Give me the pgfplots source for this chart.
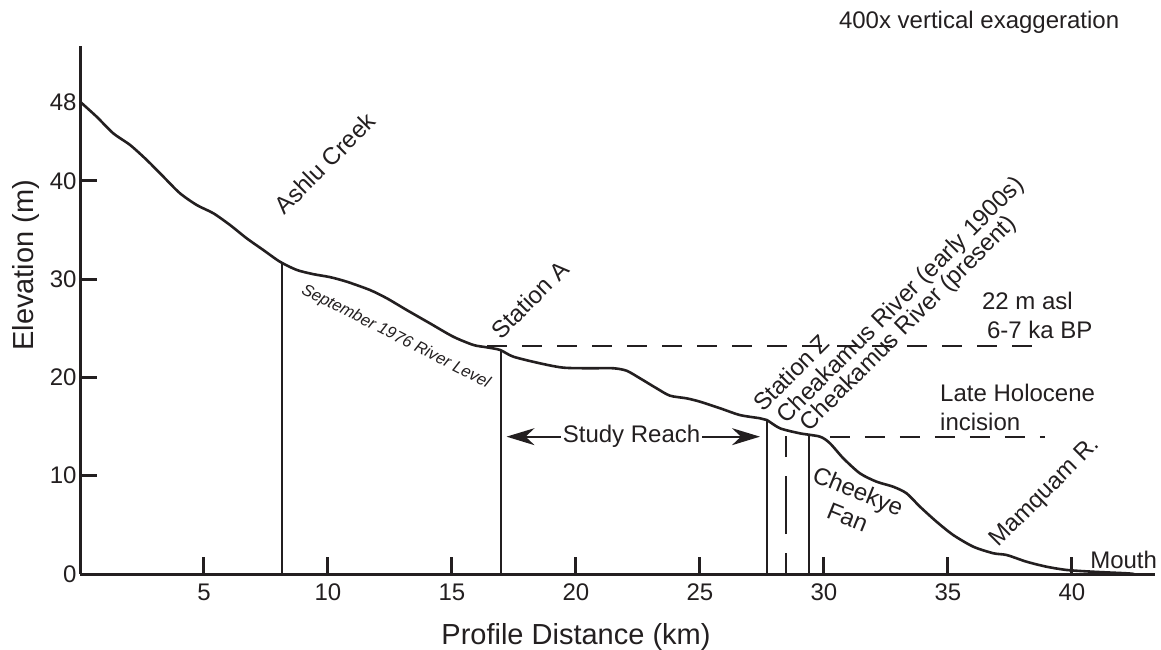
\documentclass[border=0pt]{standalone}
\usepackage{fontspec}
\setmainfont{Liberation Sans}
\usepackage{pgfplots}
\pgfplotsset{compat=1.18}
\usetikzlibrary{arrows.meta}
\definecolor{ink}{RGB}{35,31,32}
\begin{document}
\begin{tikzpicture}[font=\fontsize{24}{29}\selectfont]
\useasboundingbox (0pt,0pt) rectangle (1161pt,649pt);
\begin{axis}[
  at={(80pt,75pt)}, anchor=south west,
  scale only axis, width=1075pt, height=528pt,
  xmin=0, xmax=43.35, ymin=0, ymax=53.71,
  axis lines=left, axis line style={-, line width=3pt, draw=ink},
  clip=false,
  xtick={5,10,...,40}, ytick={0,10,20,30,40},
  extra y ticks={48}, extra y tick style={major tick length=0pt},
  tick align=inside, major tick length=17pt,
  tick style={line width=3pt, draw=ink},
  tick label style={font=\fontsize{24}{29}\selectfont, text=ink},
  /pgf/number format/assume math mode=true,
  xticklabel style={yshift=-6pt},
]
% river profile
\addplot[ink, line width=2.6pt, smooth, tension=0.45, line cap=round] coordinates {
(0,48.05) (0.67,46.52) (1.34,44.83) (2.02,43.64) (2.69,42.12) (3.36,40.42)
(4.03,38.73) (4.71,37.53) (5.38,36.69) (6.05,35.50) (6.72,34.15) (7.39,32.96)
(8.06,31.77) (8.74,30.93) (9.41,30.50) (10.08,30.20) (10.75,29.74) (11.69,28.89)
(12.37,28.05) (13.17,26.86) (14.11,25.50) (15.05,24.14) (15.86,23.30) (16.40,23.06)
(16.94,22.79) (17.47,22.11) (18.55,21.43) (19.49,20.99) (20.56,20.93) (21.50,20.93)
(22.04,20.68) (22.58,19.91) (23.25,18.89) (23.79,18.14) (24.46,17.87) (25.00,17.53)
(25.81,16.86) (26.61,16.17) (27.42,15.84) (27.69,15.67) (28.23,14.82) (29.03,14.31)
(29.84,13.97) (30.24,13.30) (30.78,11.77) (31.45,10.24) (32.12,9.39) (32.79,8.88)
(33.33,8.21) (33.87,6.85) (34.54,5.32) (35.21,3.97) (36.02,2.78) (36.83,2.11)
(37.37,1.93) (38.17,1.25) (38.98,0.74) (39.79,0.41) (40.86,0.23) (42.21,0.07) (42.5,0)
};
% vertical station lines
\addplot[ink, line width=2pt] coordinates {(8.16,0) (8.16,31.65)};
\addplot[ink, line width=2pt] coordinates {(16.98,0) (16.98,22.75)};
\addplot[ink, line width=2pt] coordinates {(27.69,0) (27.69,15.67)};
\addplot[ink, line width=2pt] coordinates {(29.40,0) (29.40,14.15)};
\addplot[ink, line width=2pt, dash pattern={on 21pt off 19pt on 58pt off 19pt}] coordinates {(28.47,0) (28.47,14.14)};
% dashed levels
\addplot[ink, line width=2pt, dash pattern={on 20pt off 15pt}] coordinates {(16.42,23.23) (38.9,23.23)};
\addplot[ink, line width=2pt, dash pattern={on 20pt off 15pt}] coordinates {(30.24,13.97) (38.9,13.97)};
% study reach arrow
\addplot[ink, line width=2pt, {Stealth[length=28pt,width=17pt,inset=9pt]}-{Stealth[length=28pt,width=17pt,inset=9pt]}] coordinates {(17.2,13.97) (27.42,13.97)};
\node[fill=white, inner sep=2pt, text=ink] at (axis cs:22.24,13.97) {Study Reach};
% labels
\node[rotate=45, anchor=base west, inner sep=0pt, text=ink] at (axis cs:8.25,36.46) {Ashlu Creek};
\node[rotate=45, anchor=base west, inner sep=0pt, text=ink] at (axis cs:16.99,23.78) {Station A};
\node[rotate=45, anchor=base west, inner sep=0pt, text=ink] at (axis cs:27.55,16.41) {Station Z};
\node[rotate=45, anchor=base west, inner sep=0pt, text=ink] at (axis cs:28.48,15.19) {Cheakamus River (early 1900s)};
\node[rotate=45, anchor=base west, inner sep=0pt, text=ink] at (axis cs:29.42,14.42) {Cheakamus River (present)};
\node[rotate=45, anchor=base west, inner sep=0pt, text=ink] at (axis cs:37.04,2.65) {Mamquam R.};
\node[rotate=-27, inner sep=0pt, text=ink, font=\fontsize{16.5}{20}\selectfont\itshape] at (axis cs:12.73,24.14) {September 1976 River Level};
\node[rotate=-22, inner sep=0pt, text=ink, align=center, font=\fontsize{24}{28}\selectfont] at (axis cs:31.17,7.12) {Cheekye\\Fan};
\node[anchor=base west, inner sep=0pt, text=ink] at (axis cs:40.73,0.61) {Mouth};
\node[anchor=base west, inner sep=0pt, text=ink] at (axis cs:36.37,26.86) {22 m asl};
\node[anchor=base west, inner sep=0pt, text=ink] at (axis cs:36.57,23.98) {6-7 ka BP};
\node[anchor=base west, inner sep=0pt, text=ink] at (axis cs:34.68,17.50) {Late Holocene};
\node[anchor=base west, inner sep=0pt, text=ink] at (axis cs:34.68,14.55) {incision};
\node[anchor=base west, inner sep=0pt, text=ink] at (axis cs:30.60,55.51) {400x vertical exaggeration};
% axis titles
\node[anchor=base, inner sep=0pt, text=ink, font=\fontsize{29}{35}\selectfont] at (axis cs:20,-7.22) {Profile Distance (km)};
\node[rotate=90, anchor=base, inner sep=0pt, text=ink, font=\fontsize{29}{35}\selectfont] at (axis cs:-1.883,31.4) {Elevation (m)};
\end{axis}
\end{tikzpicture}
\end{document}
